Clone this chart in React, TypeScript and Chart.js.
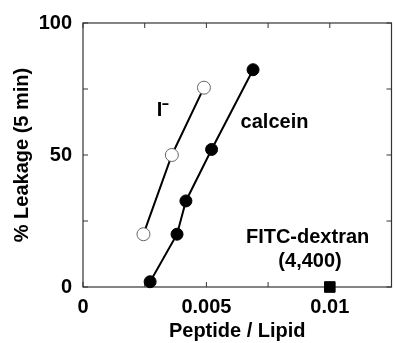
import React, { useEffect, useRef } from 'react';
import { Chart, registerables } from 'chart.js';

Chart.register(...registerables);

// Data
const iodideX = [0.00245, 0.0036, 0.0049];
const iodideY = [20, 50, 75.5];
const calceinX = [0.00272, 0.00381, 0.00417, 0.00521, 0.00689];
const calceinY = [2, 20, 32.6, 52.1, 82.3];
const dextranX = [0.01];
const dextranY = [0];

const xTicks = [0, 0.0025, 0.005, 0.0075, 0.01, 0.0125];
const xTickLabels = ['0', '', '0.005', '', '0.01', ''];
const yTicks = [0, 25, 50, 75, 100];
const yTickLabels = ['0', '', '50', '', '100'];

const annotationTexts = ['I\u207B', 'calcein', 'FITC-dextran', '(4,400)'];
const annotationX = [0.00324, 0.00776, 0.0091, 0.0092];
const annotationY = [67, 62.2, 18.7, 9.7];

const FONT = '"Liberation Sans", Arial, Helvetica, sans-serif';

const framePlugin = {
  id: 'frameTicks',
  beforeDatasetsDraw(chart: any) {
    const { ctx, chartArea } = chart;
    const { left, right, top, bottom } = chartArea;
    const xs = chart.scales.x;
    const ys = chart.scales.y;
    ctx.save();
    ctx.strokeStyle = '#333';
    ctx.lineWidth = 1.2;
    ctx.strokeRect(left, top, right - left, bottom - top);
    ctx.beginPath();
    const tl = 5;
    xTicks.forEach((v) => {
      const px = xs.getPixelForValue(v);
      ctx.moveTo(px, bottom);
      ctx.lineTo(px, bottom - tl);
      ctx.moveTo(px, top);
      ctx.lineTo(px, top + tl);
    });
    yTicks.forEach((v) => {
      const py = ys.getPixelForValue(v);
      ctx.moveTo(left, py);
      ctx.lineTo(left + tl, py);
      ctx.moveTo(right, py);
      ctx.lineTo(right - tl, py);
    });
    ctx.lineWidth = 1;
    ctx.stroke();
    ctx.restore();
  },
  afterDatasetsDraw(chart: any) {
    const { ctx } = chart;
    const xs = chart.scales.x;
    const ys = chart.scales.y;
    ctx.save();
    ctx.fillStyle = '#000';
    ctx.font = `bold 20px ${FONT}`;
    ctx.textAlign = 'center';
    ctx.textBaseline = 'middle';
    annotationTexts.forEach((t, i) => {
      ctx.fillText(t, xs.getPixelForValue(annotationX[i]), ys.getPixelForValue(annotationY[i]));
    });
    ctx.restore();
  },
};

export default function App() {
  const ref = useRef<HTMLCanvasElement | null>(null);
  useEffect(() => {
    if (!ref.current) return;
    const toPts = (xs: number[], ys: number[]) => xs.map((x, i) => ({ x, y: ys[i] }));
    const chart = new Chart(ref.current, {
      type: 'scatter',
      data: {
        datasets: [
          {
            label: 'I\u207B',
            data: toPts(iodideX, iodideY),
            showLine: true,
            borderColor: '#000',
            borderWidth: 2,
            pointRadius: 6.5,
            pointBackgroundColor: '#fff',
            pointBorderColor: '#666',
            pointBorderWidth: 1,
            clip: false as any,
          },
          {
            label: 'calcein',
            data: toPts(calceinX, calceinY),
            showLine: true,
            borderColor: '#000',
            borderWidth: 2,
            pointRadius: 6,
            pointBackgroundColor: '#000',
            pointBorderColor: '#000',
            pointBorderWidth: 1,
            clip: false as any,
          },
          {
            label: 'FITC-dextran (4,400)',
            data: toPts(dextranX, dextranY),
            showLine: false,
            pointStyle: 'rect',
            pointRadius: 7.5,
            pointBackgroundColor: '#000',
            pointBorderColor: '#000',
            pointBorderWidth: 1,
            clip: false as any,
          },
        ],
      },
      options: {
        animation: false,
        responsive: false,
        events: [],
        layout: { padding: { left: 0, top: 20, right: 4.5, bottom: 0 } },
        plugins: { legend: { display: false }, tooltip: { enabled: false } },
        scales: {
          x: {
            type: 'linear',
            min: 0,
            max: 0.0125,
            border: { display: false },
            grid: { display: false, drawTicks: false },
            afterBuildTicks: (s: any) => {
              s.ticks = xTicks.map((v) => ({ value: v }));
            },
            afterFit: (s: any) => {
              s.height = 56;
            },
            ticks: {
              autoSkip: false,
              maxRotation: 0,
              padding: 8,
              color: '#000',
              font: { family: FONT, size: 20, weight: 'bold' },
              callback: (_v: any, i: number) => xTickLabels[i],
            },
            title: {
              display: true,
              text: 'Peptide / Lipid',
              color: '#000',
              font: { family: FONT, size: 20, weight: 'bold' },
              padding: { top: 0, bottom: 0 },
            },
          },
          y: {
            type: 'linear',
            min: 0,
            max: 100,
            border: { display: false },
            grid: { display: false, drawTicks: false },
            afterBuildTicks: (s: any) => {
              s.ticks = yTicks.map((v) => ({ value: v }));
            },
            afterFit: (s: any) => {
              s.width = 83;
            },
            ticks: {
              autoSkip: false,
              padding: 11,
              color: '#000',
              font: { family: FONT, size: 20, weight: 'bold' },
              callback: (_v: any, i: number) => yTickLabels[i],
            },
            title: {
              display: true,
              text: '% Leakage (5 min)',
              color: '#000',
              font: { family: FONT, size: 20, weight: 'bold' },
              padding: { top: 10.5, bottom: 0 },
            },
          },
        },
      },
      plugins: [framePlugin],
    } as any);
    return () => chart.destroy();
  }, []);
  return (
    <div style={{ position: 'fixed', left: 0, top: 0, width: 395, height: 343, overflow: 'hidden', background: '#fff' }}>
      <canvas ref={ref} width={400} height={343} style={{ display: 'block' }} />
    </div>
  );
}
